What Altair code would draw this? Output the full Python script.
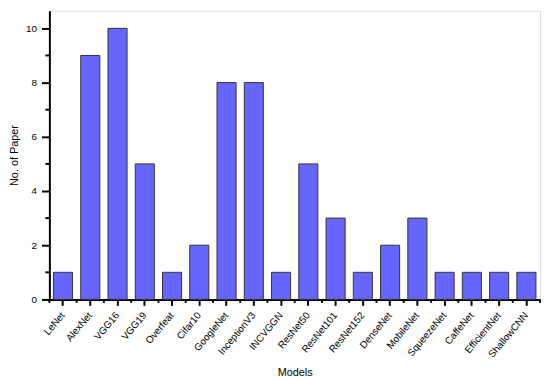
import altair as alt
import pandas as pd

models = ["LeNet", "AlexNet", "VGG16", "VGG19", "Overfeat", "Cifar10", "GoogleNet",
          "InceptionV3", "INCVGGN", "ResNet50", "ResNet101", "ResNet152", "DenseNet",
          "MobileNet", "SqueezeNet", "CaffeNet", "EfficientNet", "ShallowCNN"]
papers = [1, 9, 10, 5, 1, 2, 8, 8, 1, 5, 3, 1, 2, 3, 1, 1, 1, 1]
y_major = [0, 2, 4, 6, 8, 10]
y_minor = [1, 3, 5, 7, 9]

W, H = 498, 293
STEP = W / len(models)
FONT = "Liberation Sans"

df = pd.DataFrame({"Model": models, "Papers": papers})
df_minor = pd.DataFrame({"v": y_minor})
df_last = pd.DataFrame({"Model": [models[-1]]})

xscale = alt.Scale(domain=models, paddingInner=0.3, paddingOuter=0.15)
yscale = alt.Scale(domain=[0, 10.65], nice=False, zero=True)

bars = alt.Chart(df).mark_bar(
    fill="#6666FF", stroke="#333333", strokeWidth=1
).encode(
    x=alt.X("Model:N", scale=xscale, sort=models, title="Models",
            axis=alt.Axis(labelAngle=310, labelAlign="right", labelBaseline="middle",
                          labelFontSize=10, labelFont=FONT, labelColor="black",
                          labelPadding=8, tickSize=6, tickWidth=2, tickColor="black",
                          domainWidth=2, domainColor="black", grid=False,
                          titleFont=FONT, titleFontSize=11, titleFontWeight="normal",
                          titleColor="black", titleY=68)),
    y=alt.Y("Papers:Q", scale=yscale, title="No. of Paper",
            axis=alt.Axis(values=y_major, tickSize=8, tickWidth=2, tickColor="black",
                          domainWidth=2, domainColor="black", grid=False,
                          labelFont=FONT, labelFontSize=10, labelColor="black",
                          labelPadding=5, titleFont=FONT, titleFontSize=11,
                          titleFontWeight="normal", titleColor="black",
                          titleX=-41, titleBaseline="top")),
)

xminor = alt.Chart(df).mark_rule(color="black", strokeWidth=2, xOffset=-STEP * 0.15).encode(
    x=alt.X("Model:N", scale=xscale, sort=models, bandPosition=0),
    y=alt.value(H), y2=alt.value(H + 3.5),
)
xend = alt.Chart(df_last).mark_rule(color="black", strokeWidth=2, xOffset=STEP * 0.15).encode(
    x=alt.X("Model:N", scale=xscale, sort=models, bandPosition=1),
    y=alt.value(H), y2=alt.value(H + 3.5),
)
yminor = alt.Chart(df_minor).mark_rule(color="black", strokeWidth=2).encode(
    y=alt.Y("v:Q", scale=yscale),
    x=alt.value(-4), x2=alt.value(0),
)

chart = alt.layer(bars, xminor, xend, yminor).properties(
    width=W, height=H,
    autosize=alt.AutoSizeParams(type="none"),
    padding={"left": 42, "top": 0, "right": 2, "bottom": 78},
).configure_view(stroke=None).configure(background="white")

chart.save("out.html", embed_options={"renderer": "svg", "actions": False})
